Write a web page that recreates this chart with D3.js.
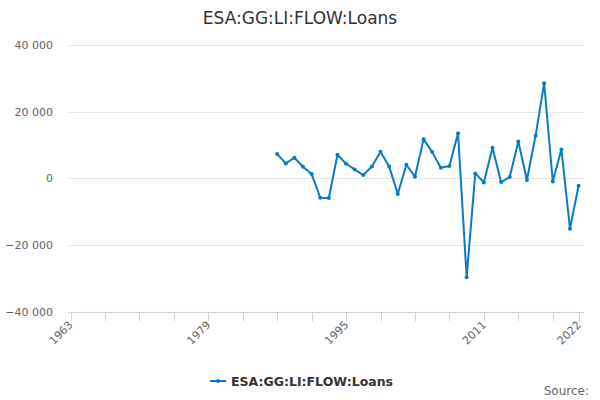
<!DOCTYPE html>
<html>
<head>
<meta charset="utf-8">
<script src="https://cdn.jsdelivr.net/npm/d3@7"></script>
<style>
  html, body { margin: 0; padding: 0; background: #fff; }
  svg { display: block; font-family: "DejaVu Sans", sans-serif; }
</style>
</head>
<body>
<svg id="chart" width="600" height="400"></svg>
<script>
const title = "ESA:GG:LI:FLOW:Loans";
const seriesName = "ESA:GG:LI:FLOW:Loans";
const years = [1987,1988,1989,1990,1991,1992,1993,1994,1995,1996,1997,1998,1999,2000,2001,2002,2003,2004,2005,2006,2007,2008,2009,2010,2011,2012,2013,2014,2015,2016,2017,2018,2019,2020,2021,2022];
const values = [7300,4500,6200,3500,1300,-5800,-5900,7100,4400,2700,1000,3600,8000,3600,-4700,4100,500,11800,7900,3200,3700,13600,-29700,1500,-1200,9200,-1100,400,11100,-500,12800,28600,-900,8700,-15100,-2200];
const yTicks = [-40000,-20000,0,20000,40000];
const xTickYears = [1963,1967,1971,1975,1979,1983,1987,1991,1995,1999,2003,2007,2011,2015,2019,2022];
const xLabelYears = [1963,1979,1995,2011,2022];
const sourceText = "Source:";

const color = "#0a7bc2";
const svg = d3.select("#chart");

const x = d3.scaleLinear().domain([1963, 2022]).range([70.5, 578.6]);
const y = d3.scaleLinear().domain([-40000, 40000]).range([311.5, 45.3]);
const plotLeft = 68, plotRight = 584;

const fmt = v => d3.format(",")(v).replace(/,/g, " ");

// gridlines
svg.append("g").selectAll("line").data(yTicks).join("line")
  .attr("x1", plotLeft).attr("x2", plotRight)
  .attr("y1", d => Math.round(y(d)) + 0.5).attr("y2", d => Math.round(y(d)) + 0.5)
  .attr("stroke", "#e6e6e6").attr("stroke-width", 1);

// y labels
svg.append("g").selectAll("text").data(yTicks).join("text")
  .attr("x", 53).attr("y", d => y(d) + 4)
  .attr("text-anchor", "end")
  .attr("font-size", 11).attr("fill", "#666666")
  .text(d => fmt(d));

// x axis line
const axisY = Math.round(y(-40000)) + 0.5;
svg.append("line")
  .attr("x1", plotLeft).attr("x2", plotRight)
  .attr("y1", axisY).attr("y2", axisY)
  .attr("stroke", "#ccd6eb").attr("stroke-width", 1);

// x ticks
svg.append("g").selectAll("line").data(xTickYears).join("line")
  .attr("x1", d => Math.round(x(d)) + 0.5).attr("x2", d => Math.round(x(d)) + 0.5)
  .attr("y1", axisY).attr("y2", axisY + 9)
  .attr("stroke", "#ccd6eb").attr("stroke-width", 1);

// x labels
svg.append("g").selectAll("text").data(xLabelYears).join("text")
  .attr("transform", d => `translate(${x(d) + 3},${axisY + 13}) rotate(-45)`)
  .attr("text-anchor", "end")
  .attr("font-size", 11).attr("fill", "#666666")
  .text(d => d);

// line
const pts = years.map((yr, i) => [yr, values[i]]);
svg.append("path").datum(pts)
  .attr("fill", "none").attr("stroke", color).attr("stroke-width", 2)
  .attr("stroke-linejoin", "round").attr("stroke-linecap", "round")
  .attr("d", d3.line().x(d => x(d[0])).y(d => y(d[1])));

svg.append("g").selectAll("circle").data(pts).join("circle")
  .attr("cx", d => x(d[0])).attr("cy", d => y(d[1])).attr("r", 2)
  .attr("fill", color);

// title
svg.append("text")
  .attr("x", 300).attr("y", 23.5)
  .attr("text-anchor", "middle")
  .attr("font-size", 17).attr("fill", "#333333")
  .text(title);

// legend
const lg = svg.append("g");
lg.append("line").attr("x1", 210).attr("x2", 226).attr("y1", 381).attr("y2", 381)
  .attr("stroke", color).attr("stroke-width", 2);
lg.append("circle").attr("cx", 218).attr("cy", 381).attr("r", 2).attr("fill", color);
lg.append("text").attr("x", 231).attr("y", 385.5)
  .attr("font-size", 12.5).attr("font-weight", "bold").attr("fill", "#333333")
  .text(seriesName);

// source
svg.append("text").attr("x", 589).attr("y", 395)
  .attr("text-anchor", "end")
  .attr("font-size", 12).attr("fill", "#666666")
  .text(sourceText);
</script>
</body>
</html>
